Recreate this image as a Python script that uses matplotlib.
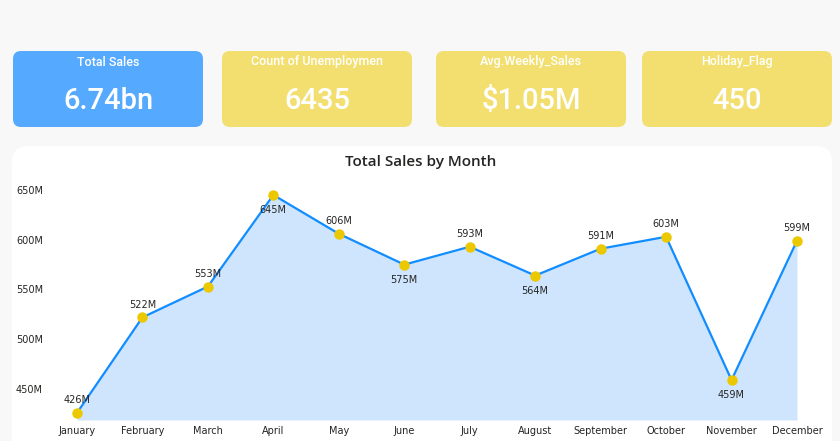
import matplotlib.pyplot as plt
from matplotlib.patches import FancyBboxPatch

# card values
card_titles = ['Total Sales', 'Count of Unemploymen', 'Avg.Weekly_Sales', 'Holiday_Flag']
card_values = ['6.74bn', '6435', '$1.05M', '450']
card_colors = ['#55aaff', '#f2df6f', '#f2df6f', '#f2df6f']

# monthly sales, millions
months = ['January', 'February', 'March', 'April', 'May', 'June', 'July',
          'August', 'September', 'October', 'November', 'December']
sales = [426, 522, 553, 645, 606, 575, 593, 564, 591, 603, 459, 599]
label_below = [False, False, False, True, False, True, False, True, False, False, True, False]

W, H = 840, 441
fig = plt.figure(figsize=(W / 100, H / 100), dpi=100)
fig.patch.set_facecolor('#f8f8f8')

# background layer in pixel coords
bg = fig.add_axes([0, 0, 1, 1])
bg.set_xlim(0, W)
bg.set_ylim(H, 0)
bg.axis('off')

card_x = [13, 222, 436, 642]
card_w = 190
for x, t, v, c in zip(card_x, card_titles, card_values, card_colors):
    bg.add_patch(FancyBboxPatch((x, 51), card_w, 76, boxstyle='round,pad=0,rounding_size=8',
                                fc=c, ec='none'))
    bg.text(x + card_w / 2, 62, t, ha='center', va='center', color='white',
            fontsize=9, fontweight='medium', family='Roboto')
    bg.text(x + card_w / 2, 101, v, ha='center', va='center', color='white',
            fontsize=21, fontweight='medium', family='Roboto')

# chart panel
bg.add_patch(FancyBboxPatch((12, 146), 820, 320, boxstyle='round,pad=0,rounding_size=16',
                            fc='white', ec='none'))
bg.text(421, 162, 'Total Sales by Month', ha='center', va='center', color='#252423',
        fontsize=11, fontweight='semibold', family='Open Sans')

# line chart
left_px, right_px, top_px, bot_px = 50, 815, 175, 420
ax = fig.add_axes([left_px / W, 1 - bot_px / H, (right_px - left_px) / W, (bot_px - top_px) / H])
ax.set_facecolor('none')
step = (797 - 77) / 11
ax.set_xlim(-(77 - left_px) / step, 11 + (right_px - 797) / step)
ymin = 650 - (bot_px - 190) / 0.995
ymax = 650 + (190 - top_px) / 0.995
ax.set_ylim(ymin, ymax)

xs = list(range(len(months)))
ax.fill_between(xs, sales, ymin, color='#cfe5fd', lw=0, zorder=1)
ax.plot(xs, sales, color='#118dff', lw=1.6, zorder=2)
ax.plot(xs, sales, 'o', color='#ecc800', ms=6.5, zorder=3)

for x, v, below in zip(xs, sales, label_below):
    off = -11 if below else 9
    ax.annotate(f'{v}M', (x, v), xytext=(0, off), textcoords='offset points',
                ha='center', va='center', fontsize=7, color='#252423')

ax.set_yticks([450, 500, 550, 600, 650])
ax.set_yticklabels([f'{t}M' for t in [450, 500, 550, 600, 650]])
ax.set_xticks(xs)
ax.set_xticklabels(months)
ax.tick_params(axis='both', length=0, labelsize=7, colors='#252423')
ax.tick_params(axis='y', pad=5)
ax.tick_params(axis='x', pad=4)
for s in ax.spines.values():
    s.set_visible(False)

fig.savefig('out.png', dpi=100, facecolor=fig.get_facecolor())
